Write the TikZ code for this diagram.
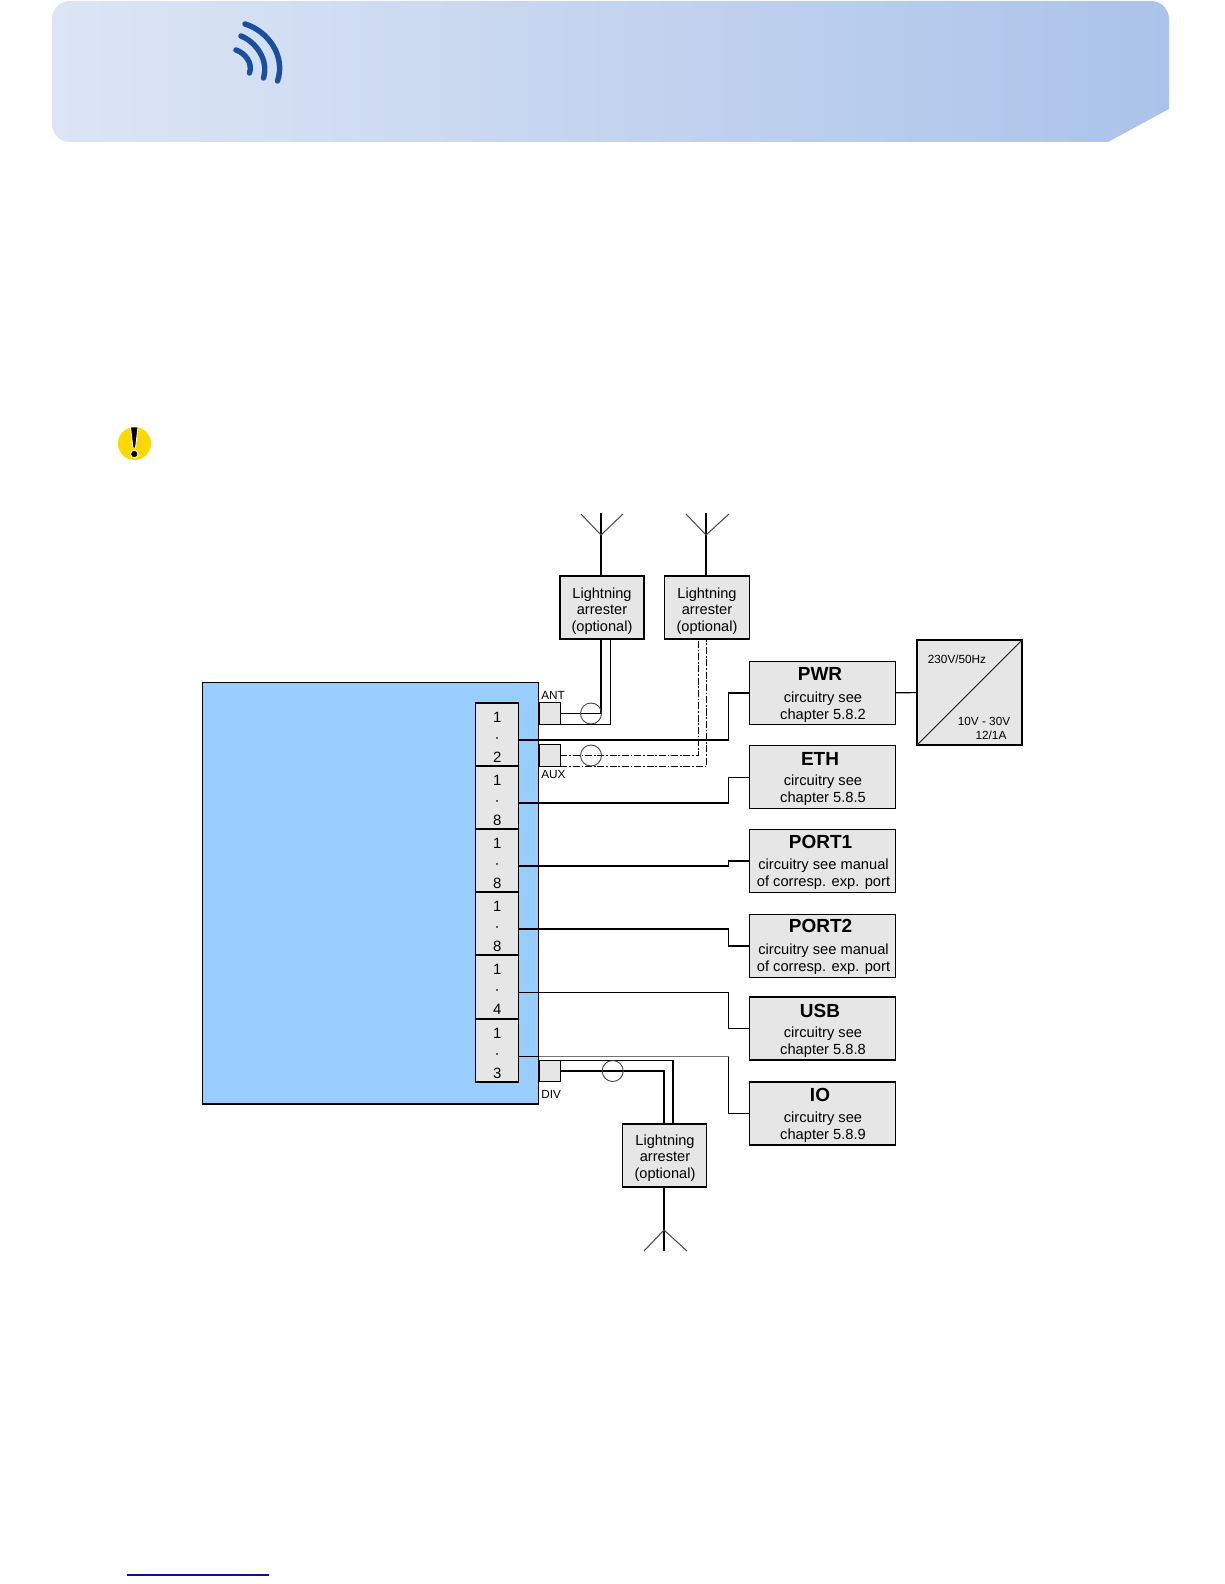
\documentclass[tikz,border=0pt]{standalone}
\usepackage{fontspec}
\setmainfont{Liberation Sans}
\definecolor{headleft}{HTML}{DCE5F4}
\definecolor{headright}{HTML}{ABC3EA}
\definecolor{iconblue}{HTML}{1A4FA0}
\definecolor{warnyellow}{HTML}{FFD800}
\definecolor{mainblue}{HTML}{99CCFF}
\definecolor{boxgrey}{HTML}{E6E6E6}
\definecolor{linkblue}{HTML}{10108C}
\tikzset{
	wire/.style={line width=0.62pt},
	coaxdash/.style={wire, dash pattern=on 4pt off 1pt on 1pt off 1pt},
	greybox/.style={draw, wire, fill=boxgrey, inner sep=0pt, outer sep=0pt},
	terminalbox/.style={greybox, minimum width=0.86cm, minimum height=1.26cm},
	terminaltext/.style={align=center, inner sep=0pt, font=\fontsize{8.5}{11.4}\selectfont},
	portbox/.style={greybox, minimum width=0.43cm, minimum height=0.43cm},
	arresterbox/.style={greybox, minimum width=1.68cm, minimum height=1.26cm},
	arrestertext/.style={align=center, inner sep=0pt, font=\fontsize{8.3}{9.4}\selectfont},
	circuitbox/.style={greybox, minimum width=2.93cm, minimum height=1.26cm},
	boxtitle/.style={font=\bfseries\fontsize{10.8}{12}\selectfont, inner sep=0pt},
	boxtext/.style={align=center, font=\fontsize{8.35}{9.7}\selectfont, inner sep=0pt},
	smalllabel/.style={font=\fontsize{6.7}{7}\selectfont, inner sep=0pt, anchor=west},
	psulabel/.style={font=\fontsize{6.7}{8}\selectfont, inner sep=0pt},
	coaxring/.style={circle, draw=black!75, line width=0.5pt, minimum size=0.42cm, inner sep=0pt},
	fork/.style={line width=0.6pt, draw=black!70}
}
\begin{document}
\begin{tikzpicture}[x=0.02cm, y=-0.02cm]
	\useasboundingbox (0,0) rectangle (1224,1584);

	% Header band
	\shade[left color=headleft, right color=headright] (1108,142) -- (70,142) .. controls (60,142) and (52,134) .. (52,124) -- (52,19) .. controls (52,9) and (60,1) .. (70,1) -- (1151,1) .. controls (1161,1) and (1169,9) .. (1169,19) -- (1169,109) -- cycle;

	% Signal icon
	\draw[iconblue, line width=3.1pt, line cap=round] (245,24) .. controls (268,31) and (286,56) .. (277.5,81);
	\draw[iconblue, line width=3.1pt, line cap=round] (241,36) .. controls (256,42) and (269,60) .. (263.5,78);
	\draw[iconblue, line width=3.1pt, line cap=round] (236,50) .. controls (245,53) and (253,63) .. (249.5,73);

	% Warning icon
	\fill[warnyellow] (134.5,443.5) circle[radius=0.33cm];
	\filldraw[fill=black, draw=white, line width=0.5pt] (130.5,427) -- (138,427) -- (135.5,448) -- (133,448) -- cycle;
	\filldraw[fill=black, draw=white, line width=0.5pt] (134.3,454) circle[radius=0.075cm];

	% Footer rule
	\draw[linkblue, line width=0.7pt] (127,1575) -- (269,1575);

	% Main unit
	\node[draw, wire, fill=mainblue, inner sep=0pt, outer sep=0pt, minimum width=6.73cm, minimum height=8.44cm] (mainunit) at (370.3,893) {};

	% Terminal blocks
	\node[terminalbox] (termA) at (497.2,734.5) {};
	\node[terminalbox] (termB) at (497.2,797.5) {};
	\node[terminalbox] (termC) at (497.2,860.5) {};
	\node[terminalbox] (termD) at (497.2,923.5) {};
	\node[terminalbox] (termE) at (497.2,987) {};
	\node[terminalbox] (termF) at (497.2,1050.5) {};
	\node[terminaltext] (pinsA) at (497.2,737) {1\\·\\2};
	\node[terminaltext] (pinsB) at (497.2,800) {1\\·\\8};
	\node[terminaltext] (pinsC) at (497.2,863) {1\\·\\8};
	\node[terminaltext] (pinsD) at (497.2,926) {1\\·\\8};
	\node[terminaltext] (pinsE) at (497.2,989) {1\\·\\4};
	\node[terminaltext] (pinsF) at (497.2,1053) {1\\·\\3};

	% Antenna ports
	\node[portbox] (antport) at (549.7,713.5) {};
	\node[portbox] (auxport) at (549.7,755.5) {};
	\node[portbox] (divport) at (549.7,1071) {};
	\node[smalllabel] (antlabel) at (541,695) {ANT};
	\node[smalllabel] (auxlabel) at (541,775) {AUX};
	\node[smalllabel] (divlabel) at (541,1094) {DIV};

	% Lightning arresters
	\node[arresterbox] (arresterA) at (602,607.5) {};
	\node[arresterbox, minimum width=1.7cm] (arresterB) at (707,607.5) {};
	\node[arresterbox] (arresterC) at (664.5,1155.5) {};
	\node[arrestertext] (arresterAtext) at (602,611) {Lightning\\arrester\\(optional)};
	\node[arrestertext] (arresterBtext) at (707,611) {Lightning\\arrester\\(optional)};
	\node[arrestertext] (arresterCtext) at (665,1158) {Lightning\\arrester\\(optional)};

	% Circuit boxes
	\node[circuitbox] (pwrbox) at (822.5,693) {};
	\node[boxtitle] (pwrtitle) at (820,674) {PWR};
	\node[boxtext] (pwrtext) at (823,707.5) {circuitry see\\chapter 5.8.2};

	\node[circuitbox] (ethbox) at (822.5,777.3) {};
	\node[boxtitle] (ethtitle) at (820,758.5) {ETH};
	\node[boxtext] (ethtext) at (823,790.5) {circuitry see\\chapter 5.8.5};

	\node[circuitbox] (portAbox) at (822.5,861) {};
	\node[boxtitle] (portAtitle) at (820.5,842) {PORT1};
	\node[boxtext] (portAtext) at (823.5,874.5) {circuitry see manual\\of corresp. exp. port};

	\node[circuitbox] (portBbox) at (822.5,946) {};
	\node[boxtitle] (portBtitle) at (820.5,926) {PORT2};
	\node[boxtext] (portBtext) at (823.5,959) {circuitry see manual\\of corresp. exp. port};

	\node[circuitbox] (usbbox) at (822.5,1028.5) {};
	\node[boxtitle] (usbtitle) at (820,1011) {USB};
	\node[boxtext] (usbtext) at (823,1042.5) {circuitry see\\chapter 5.8.8};

	\node[circuitbox] (iobox) at (822.5,1113.5) {};
	\node[boxtitle] (iotitle) at (820,1095) {IO};
	\node[boxtext] (iotext) at (823,1127.5) {circuitry see\\chapter 5.8.9};

	% Power supply
	\node[greybox, minimum width=2.1cm, minimum height=2.1cm] (psubox) at (969.5,692.5) {};
	\draw[wire, black!80] (psubox.south west) -- (psubox.north east);
	\node[psulabel] (psuin) at (957,659) {230V/50Hz};
	\node[psulabel] (psuout) at (984,721) {10V - 30V};
	\node[psulabel] (psucur) at (991,735) {12/1A};
	\draw[wire] (pwrbox) -- (psubox);

	% Bends of the lines to the circuit boxes
	\coordinate (bendA) at (728.7,740);
	\coordinate (bendB) at (728.7,803);
	\coordinate (bendC) at (728.7,866);
	\coordinate (bendD) at (728.7,929);
	\coordinate (bendE) at (728.7,992.7);
	\coordinate (bendF) at (728.7,1056.7);

	\draw[wire] (termA.east |- bendA) -- (bendA) |- (pwrbox.west);
	\draw[wire] (termB.east |- bendB) -- (bendB) |- (ethbox.west);
	\draw[wire] (termC.east |- bendC) -- (bendC) |- (portAbox.west);
	\draw[wire] (termD.east |- bendD) -- (bendD) |- (portBbox.west);
	\draw[wire] (termE.east |- bendE) -- (bendE) |- (usbbox.west);
	\draw[wire, black!55] (mainunit.east |- bendF) -- (bendF);
	\draw[wire] (termF.east |- bendF) -- (mainunit.east |- bendF);
	\draw[wire] (bendF) |- (iobox.west);

	% Coax to the first arrester
	\coordinate (antinner) at (601,639);
	\coordinate (antouter) at (610.5,639);
	\draw[wire] (antport.east) -| (antinner);
	\draw[wire] (antport.south west) -| (antouter);
	\node[coaxring] (antring) at (591,713.5) {};

	% Coax to the second arrester
	\coordinate (auxinner) at (698.7,639);
	\coordinate (auxouter) at (706.5,639);
	\draw[coaxdash] (auxport.east) -| (auxinner);
	\draw[coaxdash] (auxport.south east) -| (auxouter);
	\node[coaxring] (auxring) at (591,755.5) {};

	% Coax to the third arrester
	\coordinate (divinner) at (664,1124);
	\coordinate (divouter) at (673,1124);
	\draw[wire] (divport.east) -| (divinner);
	\draw[wire] (divport.north west) -| (divouter);
	\node[coaxring] (divring) at (612.7,1071) {};

	% Antennas
	\coordinate (mastA) at (601,513);
	\coordinate (forkA) at (601,535);
	\coordinate (tipAl) at (581,514);
	\coordinate (tipAr) at (623,514);
	\draw[wire] (mastA) -- (mastA |- arresterA.north);
	\draw[fork] (tipAl) -- (forkA) -- (tipAr);

	\coordinate (mastB) at (706,513);
	\coordinate (forkB) at (706,535);
	\coordinate (tipBl) at (686,514);
	\coordinate (tipBr) at (729,514);
	\draw[wire] (mastB) -- (mastB |- arresterB.north);
	\draw[fork] (tipBl) -- (forkB) -- (tipBr);

	\coordinate (mastC) at (664,1251);
	\coordinate (forkC) at (664,1230);
	\coordinate (tipCl) at (644,1251);
	\coordinate (tipCr) at (687,1251);
	\draw[wire] (mastC) -- (mastC |- arresterC.south);
	\draw[fork] (tipCl) -- (forkC) -- (tipCr);
\end{tikzpicture}
\end{document}
